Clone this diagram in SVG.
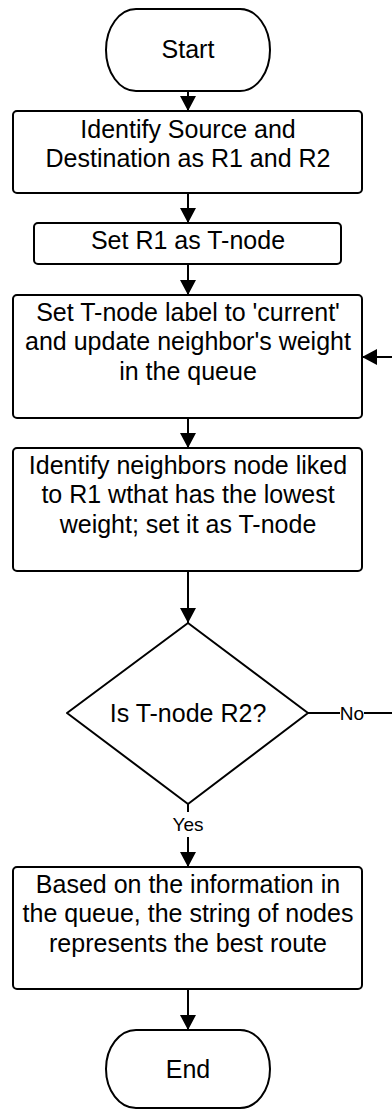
<svg xmlns="http://www.w3.org/2000/svg" width="392" height="1109" viewBox="0 0 392 1109">
  <style>
    .shape { fill: #ffffff; stroke: #000000; stroke-width: 2; }
    .label { font-family: "Liberation Sans", Arial, sans-serif; font-size: 25px; fill: #000000; text-anchor: middle; }
    .small { font-family: "Liberation Sans", Arial, sans-serif; font-size: 19px; fill: #000000; text-anchor: middle; }
    .wire { fill: none; stroke: #000000; stroke-width: 2; }
  </style>
  <defs>
    <marker id="arrow" markerUnits="userSpaceOnUse" markerWidth="16" markerHeight="16" viewBox="0 0 16 16" refX="15" refY="8" orient="auto">
      <path d="M0,0 L15,8 L0,16 Z" fill="#000000"/>
    </marker>
  </defs>
  <rect width="392" height="1109" fill="#ffffff"/>

  <!-- connectors -->
  <g id="connectors">
    <line class="wire" x1="188" y1="91" x2="188" y2="111" marker-end="url(#arrow)"/>
    <line class="wire" x1="188" y1="193" x2="188" y2="223" marker-end="url(#arrow)"/>
    <line class="wire" x1="188" y1="264" x2="188" y2="295" marker-end="url(#arrow)"/>
    <line class="wire" x1="188" y1="418" x2="188" y2="448" marker-end="url(#arrow)"/>
    <line class="wire" x1="188" y1="571" x2="188" y2="623" marker-end="url(#arrow)"/>
    <!-- Yes branch -->
    <line class="wire" x1="188" y1="804" x2="188" y2="812"/>
    <line class="wire" x1="188" y1="837" x2="188" y2="867" marker-end="url(#arrow)"/>
    <text class="small" x="188" y="831">Yes</text>
    <!-- No branch loops back to the update step -->
    <line class="wire" x1="308" y1="713" x2="340" y2="713"/>
    <path class="wire" d="M364,713 H400 V357 H362" marker-end="url(#arrow)"/>
    <text class="small" x="352" y="720">No</text>
    <line class="wire" x1="188" y1="989" x2="188" y2="1030" marker-end="url(#arrow)"/>
  </g>

  <g id="start">
    <rect class="shape" x="106" y="9" width="164" height="82" rx="30" ry="41"/>
    <text class="label" x="188" y="58">Start</text>
  </g>

  <g id="identify-endpoints">
    <rect class="shape" x="13" y="111" width="349" height="82" rx="4"/>
    <text class="label" x="188" y="138">Identify Source and</text>
    <text class="label" x="188" y="167">Destination as R1 and R2</text>
  </g>

  <g id="set-tnode">
    <rect class="shape" x="34" y="223" width="307" height="41" rx="4"/>
    <text class="label" x="188" y="249">Set R1 as T-node</text>
  </g>

  <g id="update-weights">
    <rect class="shape" x="13" y="295" width="349" height="123" rx="4"/>
    <text class="label" x="188" y="321">Set T-node label to 'current'</text>
    <text class="label" x="188" y="350">and update neighbor's weight</text>
    <text class="label" x="188" y="380">in the queue</text>
  </g>

  <g id="pick-lowest">
    <rect class="shape" x="13" y="448" width="349" height="123" rx="4"/>
    <text class="label" x="188" y="474">Identify neighbors node liked</text>
    <text class="label" x="188" y="503">to R1 wthat has the lowest</text>
    <text class="label" x="188" y="533">weight; set it as T-node</text>
  </g>

  <g id="is-destination">
    <path class="shape" d="M188,623 L308,713 L188,804 L67,713 Z" stroke-linejoin="round"/>
    <text class="label" x="188" y="722">Is T-node R2?</text>
  </g>

  <g id="best-route">
    <rect class="shape" x="13" y="867" width="349" height="122" rx="4"/>
    <text class="label" x="188" y="893">Based on the information in</text>
    <text class="label" x="188" y="922">the queue, the string of nodes</text>
    <text class="label" x="188" y="952">represents the best route</text>
  </g>

  <g id="end">
    <rect class="shape" x="106" y="1030" width="164" height="78" rx="30" ry="39"/>
    <text class="label" x="188" y="1078">End</text>
  </g>
</svg>
